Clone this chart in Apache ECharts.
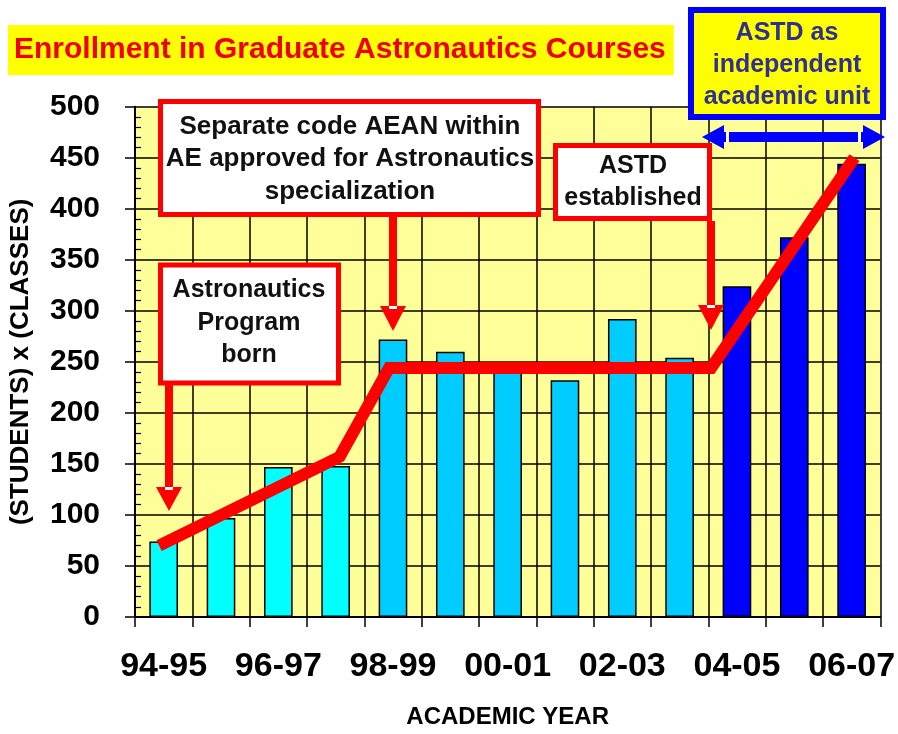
<!DOCTYPE html>
<html><head><meta charset="utf-8">
<script src="https://cdn.jsdelivr.net/npm/echarts@6/dist/echarts.min.js"></script>
<style>html,body{margin:0;padding:0;background:#fff}#c{width:898px;height:734px}</style>
</head><body><div id="c"></div>
<script>
// ---- data ----
const categories = ['94-95','95-96','96-97','97-98','98-99','99-00','00-01','01-02','02-03','03-04','04-05','05-06','06-07'];
const enrollment = [74, 97, 147, 148, 272, 260, 245, 232, 292, 254, 324, 372, 444];
const phase = [0, 0, 0, 0, 1, 1, 1, 1, 1, 1, 2, 2, 2];
const trendX = [0.42, 3.57, 4.43, 10.05, 12.55];
const trendY = [70, 157, 244, 244, 450];
const yMin = 0, yMax = 500, yStep = 50;

// ---- styles ----
const phaseColors = ['#00FFFF', '#00CCFF', '#0000FF'];
const FONT = 'Liberation Sans, Arial, sans-serif';

const chart = echarts.init(document.getElementById('c'), null, {renderer: 'canvas'});

function box(x, y, w, h, stroke, lw, fill) {
  return {type: 'rect', z: 100, shape: {x: x, y: y, width: w, height: h},
          style: {fill: fill, stroke: stroke, lineWidth: lw}};
}
function txt(x, y, text, size, color, lh) {
  return {type: 'text', z: 101, x: x, y: y,
          style: {text: text, font: 'bold ' + size + 'px ' + FONT, fill: color,
                  align: 'center', verticalAlign: 'middle', lineHeight: lh}};
}
function downArrow(cx, y0, yHead, yTip, shaftW, headW) {
  return [
    {type: 'rect', z: 100, shape: {x: cx - shaftW / 2, y: y0, width: shaftW, height: yHead - y0}, style: {fill: '#FF0000'}},
    {type: 'polygon', z: 100, shape: {points: [[cx - headW / 2, yHead], [cx + headW / 2, yHead], [cx, yTip]]}, style: {fill: '#FF0000'}},
    {type: 'rect', z: 101, shape: {x: cx - 4, y: yHead, width: 8, height: 3}, style: {fill: '#FFFFFF'}}
  ];
}

const graphics = [
  // annotation boxes
  box(160.5, 101.5, 378, 113, '#FF0000', 5, '#FFFFFF'),
  txt(350, 159, 'Separate code AEAN within\nAE approved for Astronautics\nspecialization', 26, '#111', 32.5),
  box(160.5, 265, 178, 118, '#FF0000', 5, '#FFFFFF'),
  txt(249, 323, 'Astronautics\nProgram\nborn', 25, '#111', 32.5),
  box(555.5, 145.5, 154, 73, '#FF0000', 5, '#FFFFFF'),
  txt(633, 182.5, 'ASTD\nestablished', 25, '#111', 32),
  box(691, 10, 192, 107, '#0000FF', 6, '#FFFF00'),
  txt(787, 65, 'ASTD as\nindependent\nacademic unit', 25, '#2E3192', 32),
  // double arrow
  {type: 'polygon', z: 100, shape: {points: [[702, 137], [724, 125], [724, 132], [863, 132], [863, 125], [885, 137], [863, 149], [863, 142], [724, 142], [724, 149]]}, style: {fill: '#0000FF'}},
  {type: 'rect', z: 101, shape: {x: 726, y: 132, width: 3, height: 10}, style: {fill: '#FFFFFF'}},
  {type: 'rect', z: 101, shape: {x: 858, y: 132, width: 3, height: 10}, style: {fill: '#FFFFFF'}}
].concat(downArrow(169, 384, 487, 511, 8, 26))
 .concat(downArrow(393, 217, 306, 331, 8, 26))
 .concat(downArrow(711, 221, 305, 330, 8, 26));

const option = {
  animation: false,
  backgroundColor: '#FFFFFF',
  title: {
    text: 'Enrollment in Graduate Astronautics Courses',
    left: 8, top: 25,
    backgroundColor: '#FFFF00',
    padding: [8, 8, 8, 6],
    textStyle: {color: '#F00000', fontSize: 30, fontWeight: 'bold', fontFamily: FONT, lineHeight: 34}
  },
  grid: {left: 135, right: 15.5, top: 106.7, bottom: 112.3, show: true, backgroundColor: '#FFFF99', borderWidth: 0},
  xAxis: [{
    type: 'category', data: categories, boundaryGap: true,
    axisLine: {lineStyle: {color: '#000', width: 2}},
    axisTick: {show: true, interval: 0, length: 10, lineStyle: {color: '#000', width: 1.5}},
    splitLine: {show: true, interval: 0, lineStyle: {color: '#000', width: 1.5}},
    axisLabel: {interval: 1, color: '#000', fontSize: 34, fontWeight: 'bold', fontFamily: FONT, margin: 33},
    name: 'ACADEMIC YEAR', nameLocation: 'middle', nameGap: 88,
    nameTextStyle: {color: '#000', fontSize: 24, fontWeight: 'bold', fontFamily: FONT}
  }, {
    type: 'value', min: 0, max: categories.length, show: false
  }],
  yAxis: [{
    type: 'value', min: yMin, max: yMax, interval: yStep,
    axisLine: {show: true, lineStyle: {color: '#000', width: 2}},
    axisTick: {show: true, length: 10, lineStyle: {color: '#000', width: 1.5}},
    splitLine: {show: true, lineStyle: {color: '#000', width: 1.5}},
    axisLabel: {color: '#000', fontSize: 30, fontWeight: 'bold', fontFamily: FONT, margin: 35},
    name: '(STUDENTS) x (CLASSES)', nameLocation: 'middle', nameGap: 101, nameRotate: 90,
    nameTextStyle: {color: '#000', fontSize: 26, fontWeight: 'bold', fontFamily: FONT}
  }, {
    type: 'value', min: yMin, max: yMax, interval: yStep, position: 'left',
    axisLine: {show: false}, axisLabel: {show: false}, splitLine: {show: false},
    axisTick: {show: false, inside: true},
    minorTick: {show: true, splitNumber: 5, length: 6, lineStyle: {color: '#000', width: 1.2}}
  }],
  series: [{
    type: 'bar', xAxisIndex: 0, yAxisIndex: 0, barWidth: '50%',
    data: enrollment.map((v, i) => ({value: v, itemStyle: {color: phaseColors[phase[i]]}})),
    itemStyle: {borderColor: '#000', borderWidth: 1.5}
  }, {
    type: 'line', xAxisIndex: 1, yAxisIndex: 0, showSymbol: false, symbol: 'none', z: 5,
    data: trendX.map((x, i) => [x, trendY[i]]),
    lineStyle: {color: '#FF0000', width: 12, cap: 'butt', join: 'miter'}
  }],
  graphic: graphics
};
chart.setOption(option);
</script>
</body></html>
